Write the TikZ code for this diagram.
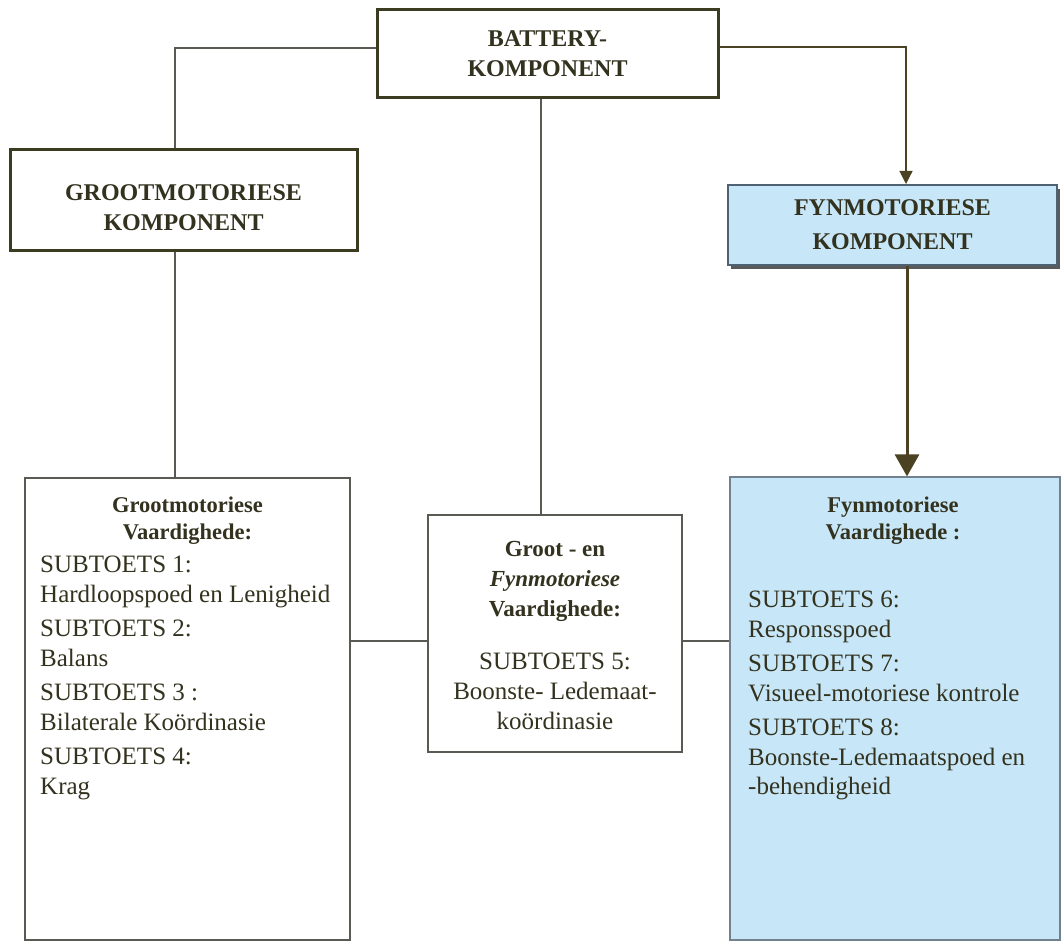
\documentclass[tikz,border=0pt]{standalone}
\usepackage{fontspec}
\setmainfont{Liberation Serif}
\usetikzlibrary{arrows.meta,shadows}
\definecolor{ink}{HTML}{33321F}
\definecolor{frame}{HTML}{3C3C22}
\definecolor{thinc}{HTML}{5A5A55}
\definecolor{sky}{HTML}{C7E7F8}
\definecolor{skyedge}{HTML}{4F6272}
\definecolor{arrowc}{HTML}{4A4222}
\begin{document}
\begin{tikzpicture}[x=1pt,y=-1pt,
  bigbox/.style={draw=frame, line width=3pt, fill=white, align=center, text=ink,
    font=\bfseries\fontsize{24}{30}\selectfont},
  fynbox/.style={draw=skyedge, line width=2pt, fill=sky, align=center, text=ink,
    font=\bfseries\fontsize{24}{34}\selectfont,
    drop shadow={shadow xshift=3pt, shadow yshift=-4pt, fill=black!65, opacity=1}},
  skillbox/.style={draw=thinc, line width=1.2pt, fill=white},
  skillblue/.style={draw=skyedge!80, line width=1.2pt, fill=sky},
  link/.style={draw=thinc, line width=1.2pt},
  head/.style={text=ink, font=\bfseries\fontsize{22.5}{27}\selectfont, align=center, inner sep=0pt},
  body/.style={text=ink, font=\fontsize{25}{29.5}\selectfont, align=left, inner sep=0pt},
  bodyc/.style={text=ink, font=\fontsize{25}{30}\selectfont, align=center, inner sep=0pt},
]
\useasboundingbox (0,0) rectangle (1064,944);

% component boxes
\node[bigbox, minimum width=341pt, minimum height=88pt] (bat) at (547.5,54) {BATTERY-\\KOMPONENT};
\node[bigbox, minimum width=347pt, minimum height=100pt] (groot) at (183.5,200) {};
\node[bigbox, draw=none, fill=none, inner sep=0pt] (groott) at (183.5,208) {GROOTMOTORIESE\\KOMPONENT};
\node[fynbox, minimum width=329pt, minimum height=80pt] (fyn) at (892.5,225) {FYNMOTORIESE\\KOMPONENT};

% skill boxes
\node[skillbox, minimum width=325pt, minimum height=462pt] (gv) at (187.5,709) {};
\node[skillbox, minimum width=254pt, minimum height=237pt] (mid) at (555,633.5) {};
\node[skillblue, minimum width=330pt, minimum height=463pt] (fv) at (895,708.5) {};

% texts of the skill boxes
\node[head, anchor=north] (gvh) at (187.5,497) {Grootmotoriese\\Vaardighede:};
\node[body, anchor=north west] (gvb) at (40,556) {SUBTOETS 1:\\Hardloopspoed en Lenigheid\\[5pt]
SUBTOETS 2:\\Balans\\[5pt]
SUBTOETS 3 :\\Bilaterale Koördinasie\\[5pt]
SUBTOETS 4:\\Krag};

\node[head, anchor=north, font=\bfseries\fontsize{23}{30}\selectfont] (midh) at (555,541) {Groot - en\\\textit{Fynmotoriese}\\Vaardighede:};
\node[bodyc, anchor=north] (midb) at (555,653) {SUBTOETS 5:\\Boonste- Ledemaat-\\koördinasie};

\node[head, anchor=north] (fvh) at (893,497) {Fynmotoriese\\Vaardighede :};
\node[body, anchor=north west] (fvb) at (748,591) {SUBTOETS 6:\\Responsspoed\\[5pt]
SUBTOETS 7:\\Visueel-motoriese kontrole\\[5pt]
SUBTOETS 8:\\Boonste-Ledemaatspoed en\\-behendigheid};

% connectors
\coordinate (hl) at (0,641);
\draw[link] ([yshift=6pt]bat.west) -| ([xshift=-8.5pt]groot.north);
\draw[link, -{Triangle[width=13pt,length=13pt]}, arrowc] ([yshift=7pt]bat.east) -| ([xshift=13.5pt]fyn.north);
\draw[link] ([xshift=-6.5pt]bat.south) -- ([xshift=-6.5pt]bat.south |- mid.north);
\draw[link] ([xshift=-8.5pt]groot.south) -- ([xshift=-8.5pt]groot.south |- gv.north);
\draw[arrowc, line width=3pt, -{Triangle[width=24pt,length=22pt]}] ([xshift=14.5pt]fyn.south) -- ([xshift=14.5pt]fyn.south |- fv.north);
\draw[link] (gv.east |- hl) -- (mid.west |- hl);
\draw[link] (mid.east |- hl) -- (fv.west |- hl);
\end{tikzpicture}
\end{document}
